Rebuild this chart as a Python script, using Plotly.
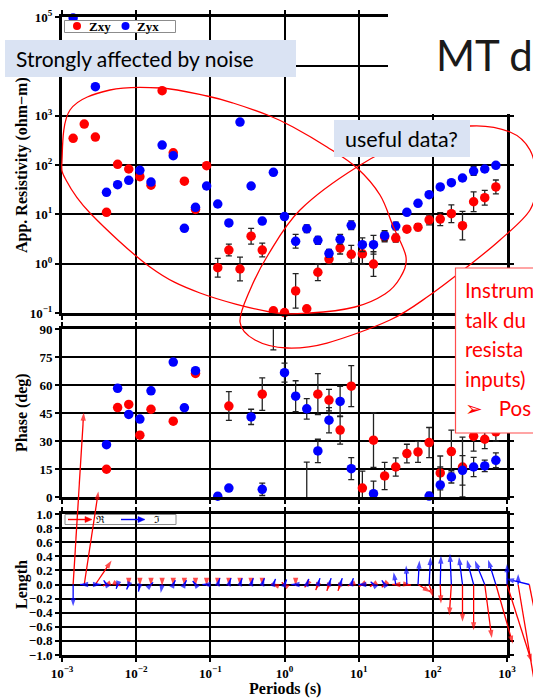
import numpy as np
import plotly.graph_objects as go

# ---------------- data ----------------
periods = [0.001413, 0.001995, 0.002818, 0.003981, 0.005623, 0.007943, 0.01122, 0.01585,
           0.02239, 0.03162, 0.04467, 0.0631, 0.08913, 0.1259, 0.1778, 0.2512, 0.3548,
           0.5012, 0.7079, 1.0, 1.413, 1.995, 2.818, 3.981, 5.623, 7.943, 11.22, 15.85,
           22.39, 31.62, 44.67, 63.1, 89.13, 125.9, 177.8, 251.2, 354.8, 501.2, 707.9,
           1000.0, 1413.0, 1995.0]

rho_xy = [348, 676, 369, 11.0, 103, 83, 58, 39, 3207, 177, 47, 12.6, 97, 0.83, 1.89, 0.78,
          3.6, 1.89, 0.111, 0.102, 0.28, 0.122, 0.67, 1.24, 2.07, 1.55, 1.58, 0.98, 3.5, 3.3,
          5.0, 5.5, 7.7, 8.0, 10.3, 5.9, 18, 21.7, 36, None, None, None]
rho_xy_err_dex = [0, 0, 0, 0, 0, 0, 0, 0, 0, 0, 0, 0, 0.04, 0.19, 0.12, 0.24, 0.16, 0.14, 0, 0,
                  0.35, 0, 0.17, 0.10, 0.12, 0.18, 0.21, 0.25, 0.10, 0.08, 0.06, 0.07, 0.10,
                  0.13, 0.18, 0.29, 0.20, 0.15, 0.14, 0, 0, 0]

rho_yx = [95000, None, 3864, 28, 40, 49, 78, 45, 254, 154, 5.2, 13.9, 37.5, 16.2, 6.7, 743,
          37.5, 7.3, 71, 9.0, 2.84, 5.1, 2.97, 1.62, 3.12, 6.0, 2.42, 2.42, 3.7, 5.8, 11, 16.7,
          25, 36, 43.8, 54.5, 75.5, 83, 98.6, None, None, None]
rho_yx_err_dex = [0, 0, 0, 0, 0, 0, 0, 0, 0, 0, 0, 0, 0.04, 0, 0, 0, 0.05, 0, 0, 0, 0.14, 0.08,
                  0.08, 0.08, 0.10, 0.09, 0.14, 0.19, 0.10, 0.08, 0.03, 0, 0, 0, 0, 0, 0.09,
                  0, 0, 0, 0, 0]

phase_xy = [None, None, None, 14.9, 48.0, 49.7, 33.2, 47.1, None, 40.7, None, 66.3, None, None,
            48.8, None, None, 55.2, 97, None, None, -3, 55.2, 52.0, 35.9, 59.5, 4.8, 30.5, 11.3,
            16.1, 23.3, 24.2, 29.2, 12.9, 24.4, 16.1, 32.6, 31, 35, None, None, None]
phase_xy_err = [0, 0, 0, 0, 0, 0, 0, 0, 0, 0, 0, 0, 0, 0, 7.7, 0, 0, 8.7, 18, 0, 0, 21.7, 11,
                5.8, 7.5, 11, 9.1, 14.6, 7.3, 4.9, 5.0, 5.6, 8.1, 9.1, 11.5, 16, 8, 5, 5, 0, 0, 0]

phase_yx = [None, None, None, 28.1, 58.3, 44.3, 41.8, 57.0, None, 72.4, 47.9, 67.8, None, 0.4,
            4.8, None, 43.0, 4.1, None, 66.7, 54.1, 47.3, 24.7, 41.2, 51.3, 15.2, None, 1.8,
            None, None, None, None, 0.5, 6.5, 10.8, 14.3, 16.1, 16.7, 19.7, None, None, None]
phase_yx_err = [0, 0, 0, 0, 0, 0, 0, 0, 0, 0, 1.5, 0, 0, 1.5, 0, 0, 4.1, 3.3, 0, 5.1, 8.3, 5.5,
                6.3, 6.8, 8.1, 5.9, 0, 6.7, 0, 0, 0, 0, 2, 9.6, 3.3, 7.9, 5.2, 3.1, 4, 0, 0, 0]

# induction arrows (length units): real (red) and imaginary (blue)
re_dx = [0.15, 0.20, 0.23, -0.05, 0.04, 0.0, 0.0, 0.0, 0.0, 0.0, 0.0, 0.0, 0.0, 0.0, 0.0, 0.0,
         0.0, 0.0, -0.03, -0.04, 0.0, -0.03, -0.03, -0.03, -0.03, -0.05, -0.05, -0.05, -0.04,
         -0.05, 0.06, 0.18, 0.06, 0.01, -0.03, 0.0, 0.0, 0.10, 0.24, 0.35, 0.25, 0.10]
re_dy = [2.44, 1.32, 0.34, -0.02, -0.02, -0.02, -0.02, -0.02, -0.02, -0.02, -0.02, -0.02, -0.02,
         -0.02, -0.02, -0.02, -0.02, -0.02, 0.01, 0.03, -0.02, -0.04, -0.08, -0.09, -0.09, -0.02,
         -0.03, -0.03, -0.04, 0.0, -0.01, -0.11, -0.18, -0.27, -0.44, -0.53, -0.65, -0.76,
         -0.84, -1.10, -1.50, -0.50]
im_dx = [0.0, -0.06, 0.08, -0.04, -0.02, -0.03, -0.02, 0.03, -0.02, 0.03, 0.03, -0.04, -0.06,
         0.03, 0.03, 0.03, 0.03, 0.03, 0.03, 0.03, -0.06, 0.03, 0.03, 0.03, 0.03, 0.03, -0.06,
         -0.04, -0.04, -0.03, -0.01, 0.02, 0.02, 0.01, -0.02, -0.05, -0.095, -0.14, -0.11, 0.0,
         0.0, -0.33]
im_dy = [-0.31, 0.0, 0.0, 0.06, -0.06, -0.07, -0.10, 0.03, -0.12, 0.06, 0.06, 0.05, 0.0, 0.09,
         0.09, 0.09, 0.09, 0.09, 0.08, 0.07, 0.0, 0.08, 0.09, 0.09, 0.09, 0.09, 0.0, 0.04, 0.06,
         0.175, 0.27, 0.34, 0.39, 0.41, 0.435, 0.39, 0.35, 0.34, 0.35, 0.29, 0.15, 0.08]

x_tickvals = [1e-3, 1e-2, 1e-1, 1e0, 1e1, 1e2, 1e3]
x_ticktext = ["10<sup>−3</sup>", "10<sup>−2</sup>", "10<sup>−1</sup>", "10<sup>0</sup>",
              "10<sup>1</sup>", "10<sup>2</sup>", "10<sup>3</sup>"]
rho_tickvals = [1e-1, 1e0, 1e1, 1e2, 1e3, 1e4, 1e5]
# the 10^4 label is hidden under the slide's text box in the original
rho_ticktext = ["10<sup>−1</sup>", "10<sup>0</sup>", "10<sup>1</sup>", "10<sup>2</sup>",
                "10<sup>3</sup>", "", "10<sup>5</sup>"]
phase_tickvals = [0, 15, 30, 45, 60, 75, 90]
len_tickvals = [-1.0, -0.8, -0.6, -0.4, -0.2, 0.0, 0.2, 0.4, 0.6, 0.8, 1.0]

# ---------------- layout geometry ----------------
W, H = 533, 699
ML, MR, MT, MB = 62, 0, 17, 5
PW, PH = W - ML - MR, H - MT - MB


def fx(p):
    return (p - ML) / PW


def fy(p):
    return 1 - (p - MT) / PH


X_RIGHT = 507
XDOM = [0, fx(X_RIGHT)]
Y1DOM = [fy(313), fy(17)]
Y2DOM = [fy(497), fy(329.3)]
Y3_TOP, Y3_BOT = 514, 655
Y3DOM = [fy(Y3_BOT), fy(Y3_TOP)]
PXLEN = (Y3_BOT - Y3_TOP) / 2.0                 # pixels per length unit
PXDEC = (X_RIGHT - ML) / 6.0                     # pixels per decade
LEN2DEC = PXLEN / PXDEC
# overlay axes for the arrows: same scales as the length panel, larger extent
X4RANGE = [-3, -3 + PW / PXDEC]
Y4_TOPPX = 380
Y4DOM = [0, fy(Y4_TOPPX)]
Y4RANGE = [-1 - (MT + PH - Y3_BOT) / PXLEN, -1 + (Y3_BOT - Y4_TOPPX) / PXLEN]

RED = "#ff0000"
BLUE = "#0000ff"
ERRC = "#222222"
TICKFONT = dict(family="Liberation Serif", size=13, color="black", weight="bold")


def err_log(vals, dex):
    plus, minus = [], []
    for v, d in zip(vals, dex):
        if v is None:
            plus.append(0)
            minus.append(0)
        else:
            plus.append(v * (10 ** d - 1))
            minus.append(v * (1 - 10 ** (-d)))
    return plus, minus


fig = go.Figure()

# resistivity
for vals, dex, col, name in [(rho_xy, rho_xy_err_dex, RED, "Zxy"), (rho_yx, rho_yx_err_dex, BLUE, "Zyx")]:
    p, m = err_log(vals, dex)
    fig.add_trace(go.Scatter(
        x=periods, y=vals, mode="markers", name=name, showlegend=False, cliponaxis=False,
        marker=dict(color=col, size=9.5, line=dict(width=0)),
        error_y=dict(type="data", symmetric=False, array=p, arrayminus=m,
                     color=ERRC, thickness=1.3, width=3),
        xaxis="x", yaxis="y"))

# phase (in-range points unclipped, off-range points clipped)
for vals, errs, col in [(phase_xy, phase_xy_err, RED), (phase_yx, phase_yx_err, BLUE)]:
    for inside in (False, True):
        xs, ys, es = [], [], []
        for t, v, e in zip(periods, vals, errs):
            if v is None:
                continue
            if (0 <= v <= 90) == inside:
                xs.append(t)
                ys.append(v)
                es.append(e)
        if not xs:
            continue
        fig.add_trace(go.Scatter(
            x=xs, y=ys, mode="markers", showlegend=False, cliponaxis=not inside,
            marker=dict(color=col, size=9.5, line=dict(width=0)),
            error_y=dict(type="data", array=es, color=ERRC, thickness=1.3, width=3),
            xaxis="x2", yaxis="y2"))

# arrow origins on the length panel (invisible; makes the panel's axes exist)
fig.add_trace(go.Scatter(x=periods[:39], y=[0.0] * 39, mode="markers",
                         marker=dict(size=1, opacity=0), hoverinfo="skip",
                         showlegend=False, xaxis="x3", yaxis="y3"))

# induction arrows: segment origin -> tip, arrowhead marker at tip
for dxs, dys, col in ((re_dx, re_dy, RED), (im_dx, im_dy, BLUE)):
    xs, ys, sizes = [], [], []
    for t, dx, dy in zip(periods, dxs, dys):
        lx = np.log10(t)
        xs += [t, 10 ** (lx + dx * LEN2DEC), None]
        ys += [0.0, dy, None]
        sizes += [0, 8.5, 0]
    fig.add_trace(go.Scatter(
        x=xs, y=ys, mode="lines+markers", connectgaps=False, cliponaxis=False,
        line=dict(color=col, width=1.3),
        marker=dict(symbol="arrow", size=sizes, angleref="previous", color=col,
                    line=dict(width=0)),
        hoverinfo="skip", showlegend=False, xaxis="x4", yaxis="y4"))

axis_common = dict(showline=True, linewidth=3, linecolor="black", mirror="ticks",
                   showgrid=True, gridcolor="black", gridwidth=2, ticks="outside",
                   ticklen=4, tickwidth=2, tickcolor="black", zeroline=False,
                   automargin=False, tickfont=TICKFONT)

xcommon = dict(axis_common, type="log", range=[-3, 3], tickvals=x_tickvals,
               ticktext=x_ticktext, domain=XDOM)

fig.update_layout(
    xaxis=dict(xcommon, anchor="y", showticklabels=False),
    xaxis2=dict(xcommon, anchor="y2", showticklabels=False),
    xaxis3=dict(xcommon, anchor="y3", showticklabels=True),
    yaxis=dict(axis_common, type="log", range=[-1, 5], tickvals=rho_tickvals,
               ticktext=rho_ticktext, domain=Y1DOM, anchor="x"),
    yaxis2=dict(axis_common, range=[0, 90], tickvals=phase_tickvals, domain=Y2DOM, anchor="x2"),
    yaxis3=dict(axis_common, range=[-1, 1], tickvals=len_tickvals, tickformat=".1f",
                domain=Y3DOM, anchor="x3"),
    xaxis4=dict(type="log", range=X4RANGE, domain=[0, 1], anchor="y4", visible=False,
                showgrid=False, zeroline=False, automargin=False),
    yaxis4=dict(range=Y4RANGE, domain=Y4DOM, anchor="x4", visible=False,
                showgrid=False, zeroline=False, automargin=False),
)

# -------------- decorations --------------
def smooth_closed_path(pts):
    P = np.array(pts, float)
    n = len(P)
    d = "M{:.5f},{:.5f}".format(fx(P[0, 0]), fy(P[0, 1]))
    for i in range(n):
        p0, p1, p2, p3 = P[i - 1], P[i], P[(i + 1) % n], P[(i + 2) % n]
        c1 = p1 + (p2 - p0) / 6.0
        c2 = p2 - (p3 - p1) / 6.0
        d += " C{:.5f},{:.5f} {:.5f},{:.5f} {:.5f},{:.5f}".format(
            fx(c1[0]), fy(c1[1]), fx(c2[0]), fy(c2[1]), fx(p2[0]), fy(p2[1]))
    return d + " Z"


ellipse1 = [(62, 160), (70, 110), (110, 90), (161, 88), (207, 96), (233, 103), (270, 116),
            (293, 127), (327, 147), (357, 168), (380, 195), (393, 226), (406, 257), (400, 278),
            (385, 294), (355, 307), (310, 313), (270, 312), (200, 293), (150, 267), (90, 213),
            (66, 180)]
ellipse2 = [(240, 322), (250, 290), (268, 255), (300, 210), (357, 167), (415, 138), (470, 126),
            (510, 132), (530, 150), (536, 180), (530, 210), (500, 240), (467, 267), (430, 295),
            (390, 320), (327, 343), (287, 348), (255, 340)]


def rect(x0, y0, x1, y1, fill, line_color=None, lw=0, layer="above"):
    return dict(type="rect", xref="paper", yref="paper", x0=fx(x0), x1=fx(x1), y0=fy(y1),
                y1=fy(y0), fillcolor=fill, layer=layer,
                line=dict(color=line_color or fill, width=lw))


shapes = []
shapes.append(rect(388, -5, 545, 114, "white"))
for pts in (ellipse1, ellipse2):
    shapes.append(dict(type="path", xref="paper", yref="paper", path=smooth_closed_path(pts),
                       line=dict(color=RED, width=1.3), fillcolor="rgba(0,0,0,0)", layer="above"))
shapes.append(rect(5, 40, 296, 77, "#dae3f3"))
shapes.append(rect(334, 120, 470, 157, "#dae3f3"))
shapes.append(rect(455.5, 268, 560, 433, "white", "#ff4d4d", 1.2))
# legends
shapes.append(rect(64.5, 20.5, 175.5, 32.5, "white", "#8c8c8c", 1))
shapes.append(rect(65, 514.5, 176, 524.5, "white", "#8c8c8c", 1, layer="below"))
for cx, col in ((77, RED), (125.5, BLUE)):
    shapes.append(dict(type="circle", xref="paper", yref="paper", x0=fx(cx - 4), x1=fx(cx + 4),
                       y0=fy(30), y1=fy(22), fillcolor=col, line=dict(width=0), layer="above"))
LEG_Y = 519.5
for x0, x1, col in ((68, 92, RED), (121, 145, BLUE)):
    shapes.append(dict(type="line", xref="paper", yref="paper", x0=fx(x0), x1=fx(x1 - 5),
                       y0=fy(LEG_Y), y1=fy(LEG_Y), line=dict(color=col, width=1.4), layer="above"))
    tri = "M{},{} L{},{} L{},{} Z".format(fx(x1), fy(LEG_Y), fx(x1 - 7), fy(LEG_Y - 3),
                                          fx(x1 - 7), fy(LEG_Y + 3))
    shapes.append(dict(type="path", xref="paper", yref="paper", path=tri, fillcolor=col,
                       line=dict(color=col, width=0.5), layer="above"))

anns = []


def text(x, y, s, size, color="black", family="Lato", xanchor="left", weight="normal", angle=0):
    anns.append(dict(xref="paper", yref="paper", x=fx(x), y=fy(y), text=s, showarrow=False,
                     xanchor=xanchor, yanchor="middle", textangle=angle,
                     font=dict(family=family, size=size, color=color, weight=weight)))


text(14, 58.5, "Strongly affected by noise", 21)
text(343, 138.5, "useful data?", 21.5)
text(434, 55, "MT d", 42, color="#1a1a1a")
for yy, s in zip([290, 319.5, 349, 378.5, 408],
                 ["Instrum", "talk du", "resista", "inputs)", "➢   Pos"]):
    text(463, yy, s, 20.5, color=RED)

SERIF = "Liberation Serif"
text(87, 26.5, "Zxy", 13, family=SERIF, weight="bold")
text(135, 26.5, "Zyx", 13, family=SERIF, weight="bold")
text(22, 165, "App. Resistivity (ohm−m)", 16, family=SERIF, xanchor="center", weight="bold", angle=-90)
text(22, 413, "Phase (deg)", 16, family=SERIF, xanchor="center", weight="bold", angle=-90)
text(22, 585, "Length", 16, family=SERIF, xanchor="center", weight="bold", angle=-90)
text(285, 689, "Periods (s)", 16, family=SERIF, xanchor="center", weight="bold")
text(100, 519.5, "ℜ", 10, family="DejaVu Serif", xanchor="center")
text(157, 519.5, "ℑ", 10, family="DejaVu Serif", xanchor="center")

fig.update_layout(
    width=W, height=H, template="none",
    margin=dict(l=ML, r=MR, t=MT, b=MB, autoexpand=False),
    paper_bgcolor="white", plot_bgcolor="rgba(0,0,0,0)",
    showlegend=False, shapes=shapes, annotations=anns,
    font=dict(family=SERIF, color="black"),
)

fig.write_html("out.html")
